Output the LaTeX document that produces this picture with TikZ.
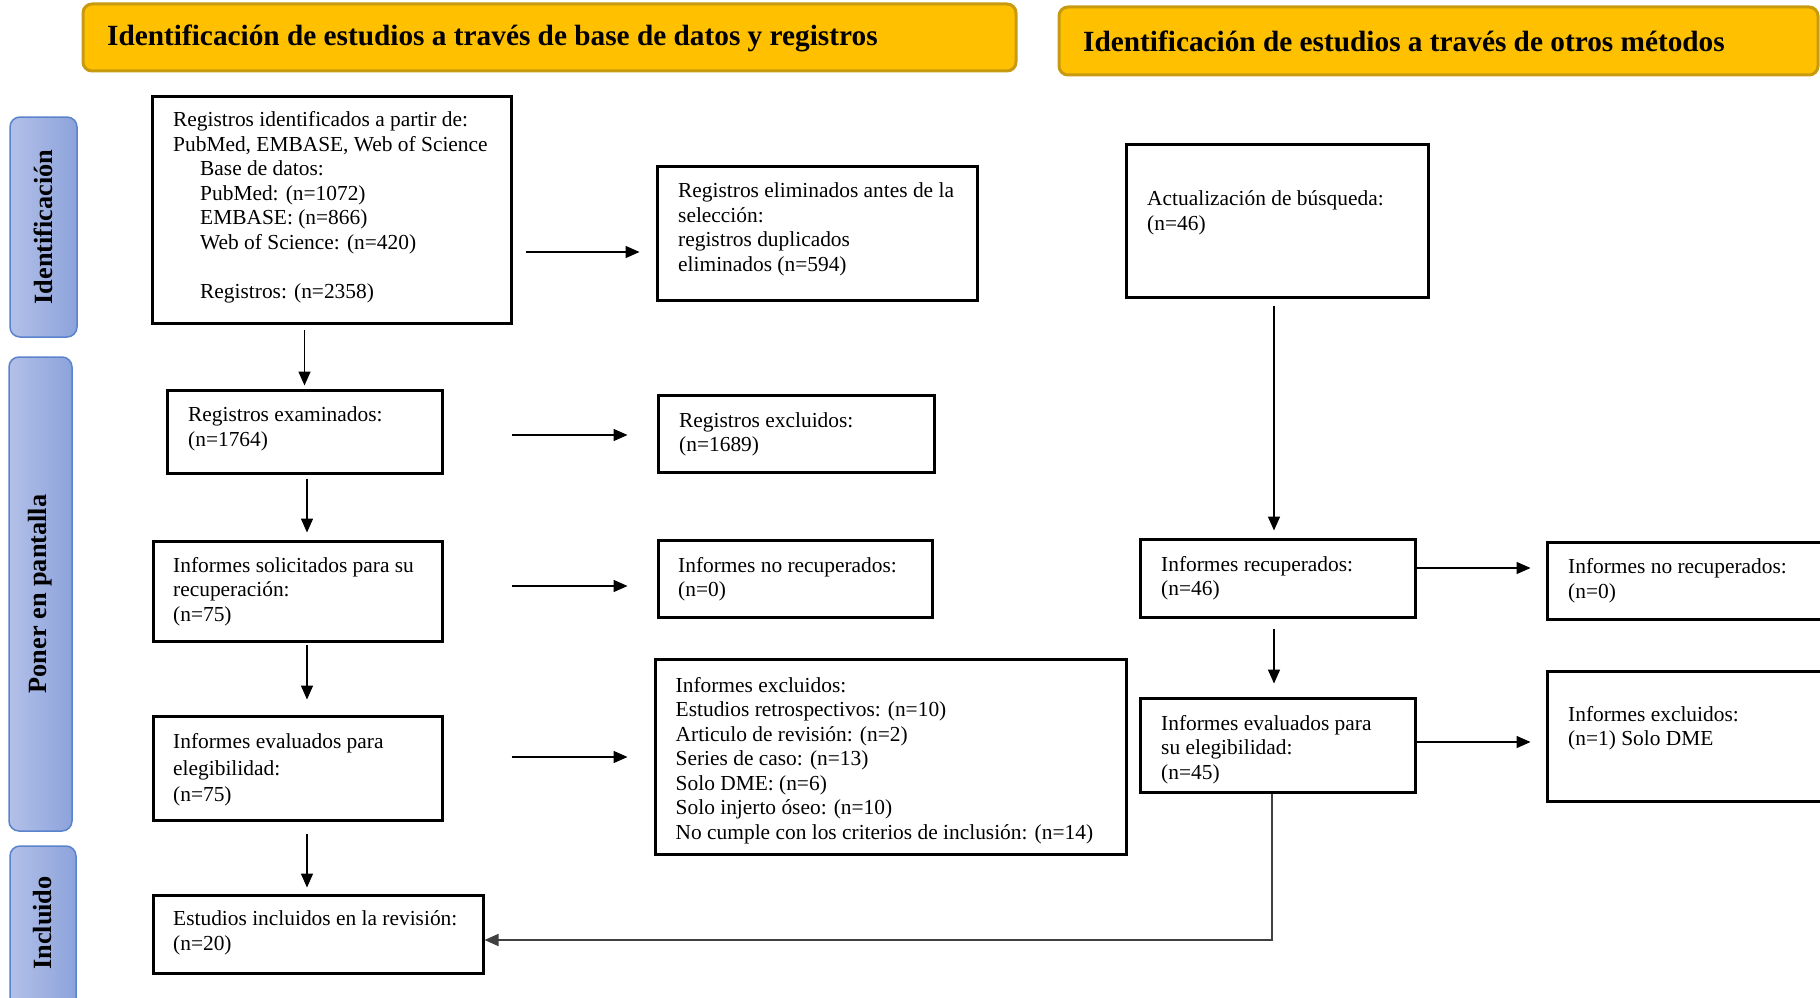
\documentclass[tikz,border=0pt]{standalone}
\usepackage{fontspec}
\setmainfont{Liberation Serif}
\usetikzlibrary{arrows.meta,calc,fit}
\definecolor{gold}{HTML}{FFC000}
\definecolor{goldline}{HTML}{C79A10}
\definecolor{sideL}{HTML}{B3C0E8}
\definecolor{sideR}{HTML}{8CA3DB}
\definecolor{sideline}{HTML}{5A83CC}
\definecolor{conn}{HTML}{404040}
\begin{document}
\begin{tikzpicture}[x=1pt,y=-1pt,
  box/.style={draw=black,line width=3pt,inner sep=0pt,fit={#1}},
  hdr/.style={draw=goldline,fill=gold,line width=3pt,rounded corners=9pt,inner sep=0pt,fit={#1}},
  side/.style={draw=sideline,line width=1.5pt,left color=sideL,right color=sideR,rounded corners=10pt,inner sep=0pt,fit={#1}},
  txt/.style={anchor=west,align=left,inner sep=0pt,font=\fontsize{21.4}{24.5}\selectfont},
  hdrtxt/.style={anchor=west,inner sep=0pt,font=\fontsize{29.3}{32}\selectfont\bfseries},
  sidetxt/.style={rotate=90,inner sep=0pt,font=\fontsize{26.3}{28}\selectfont\bfseries},
  arr/.style={line width=1.6pt,-{Triangle[length=14pt,width=12pt]}},
]
\useasboundingbox (0,0) rectangle (1820,998);

% headers
\node[hdr={(83,4) (1016,71)}] (h1) {};
\node[hdrtxt] (h1t) at (107,38) {Identificación de estudios a través de base de datos y registros};
\node[hdr={(1059,7) (1818,75)}] (h2) {};
\node[hdrtxt] (h2t) at (1083,41) {Identificación de estudios a través de otros métodos};

% side labels
\node[side={(10,117) (77,337)}] (s1) {};
\node[sidetxt] (s1t) at (s1.center) {Identificación};
\node[side={(9,357) (72,831)}] (s2) {};
\node[sidetxt] (s2t) at (s2.center) {Poner en pantalla};
\node[side={(10,846) (76,1010)}] (s3) {};
\node[sidetxt] (s3t) at (43,923) {Incluido};

% boxes
\node[box={(152,96) (511,323)}] (a) {};
\node[txt] (at) at (173,207.5) {Registros identificados a partir de:\\
PubMed, EMBASE, Web of Science\\
\hspace*{27pt}Base de datos:\\
\hspace*{27pt}PubMed: (n=1072)\\
\hspace*{27pt}EMBASE: (n=866)\\
\hspace*{27pt}Web of Science: (n=420)\\[24.5pt]
\hspace*{27pt}Registros: (n=2358)};

\node[box={(657,166) (977,300)}] (b) {};
\node[txt] (bt) at (678,229.5) {Registros eliminados antes de la\\selección:\\registros duplicados\\eliminados (n=594)};

\node[box={(1126,144) (1428,297)}] (c) {};
\node[txt] (ct) at (1147,212.7) {Actualización de búsqueda:\\(n=46)};

\node[box={(167,390) (442,473)}] (d) {};
\node[txt] (dt) at (188,428.6) {Registros examinados:\\(n=1764)};

\node[box={(658,395) (934,472)}] (e) {};
\node[txt] (et) at (679,434.4) {Registros excluidos:\\(n=1689)};

\node[box={(153,541) (442,641)}] (f) {};
\node[txt] (ft) at (173,591.6) {Informes solicitados para su\\recuperación:\\(n=75)};

\node[box={(658,540) (932,617)}] (g) {};
\node[txt] (gt) at (678,579) {Informes no recuperados:\\(n=0)};

\node[box={(655,659) (1126,854)}] (h) {};
\node[txt] (ht) at (675.5,760.7) {Informes excluidos:\\Estudios retrospectivos: (n=10)\\Articulo de revisión: (n=2)\\Series de caso: (n=13)\\Solo DME: (n=6)\\Solo injerto óseo: (n=10)\\No cumple con los criterios de inclusión: (n=14)};

\node[box={(153,716) (442,820)}] (i) {};
\node[txt,font=\fontsize{21.4}{26.3}\selectfont] (it) at (173,770) {Informes evaluados para\\elegibilidad:\\(n=75)};

\node[box={(153,895) (483,973)}] (j) {};
\node[txt] (jt) at (173,932.9) {Estudios incluidos en la revisión:\\(n=20)};

\node[box={(1140,539) (1415,617)}] (k) {};
\node[txt] (kt) at (1161,578.3) {Informes recuperados:\\(n=46)};

\node[box={(1547,542) (1835,619)}] (l) {};
\node[txt] (lt) at (1568,580.6) {Informes no recuperados:\\(n=0)};

\node[box={(1140,698) (1415,792)}] (m) {};
\node[txt] (mt) at (1161,749.5) {Informes evaluados para\\su elegibilidad:\\(n=45)};

\node[box={(1547,671) (1835,801)}] (n) {};
\node[txt] (nt) at (1568,728) {Informes excluidos:\\(n=1) Solo DME};

% connectors
\draw[arr] ($(a.east)+(13,42.5)$) -- ($(b.west)+(-16,19)$);
\draw[arr] ($(d.north |- a.south)+(0,5)$) -- ($(d.north)+(0,-3)$);
\draw[arr] ($(d.east)+(68,3.5)$) -- ($(e.west)+(-29,1.5)$);
\draw[arr] ($(d.south)+(2.5,4)$) -- ($(f.north)+(9.5,-7)$);
\draw[arr] ($(f.east)+(68,-5)$) -- ($(g.west)+(-29,7.5)$);
\draw[arr] ($(f.south)+(9.5,2)$) -- ($(i.north)+(9.5,-15)$);
\draw[arr] ($(i.east)+(68,-11)$) -- ($(h.west)+(-26,0.5)$);
\draw[arr] ($(i.south)+(9.5,12)$) -- ($(j.north)+(-11,-6)$);
\draw[arr] ($(c.south)+(-3,7)$) -- ($(k.north)+(-3.5,-7)$);
\draw[arr] ($(k.east)+(0,-10)$) -- ($(l.west)+(-15,-12.5)$);
\draw[arr] ($(k.south)+(-3.5,10)$) -- ($(m.north)+(-3.5,-13)$);
\draw[arr] ($(m.east)+(0,-3)$) -- ($(n.west)+(-15,6)$);
\draw[arr,draw=conn] ($(m.south)+(-5.5,0)$) |- ($(j.east)+(0,6)$);
\end{tikzpicture}
\end{document}
